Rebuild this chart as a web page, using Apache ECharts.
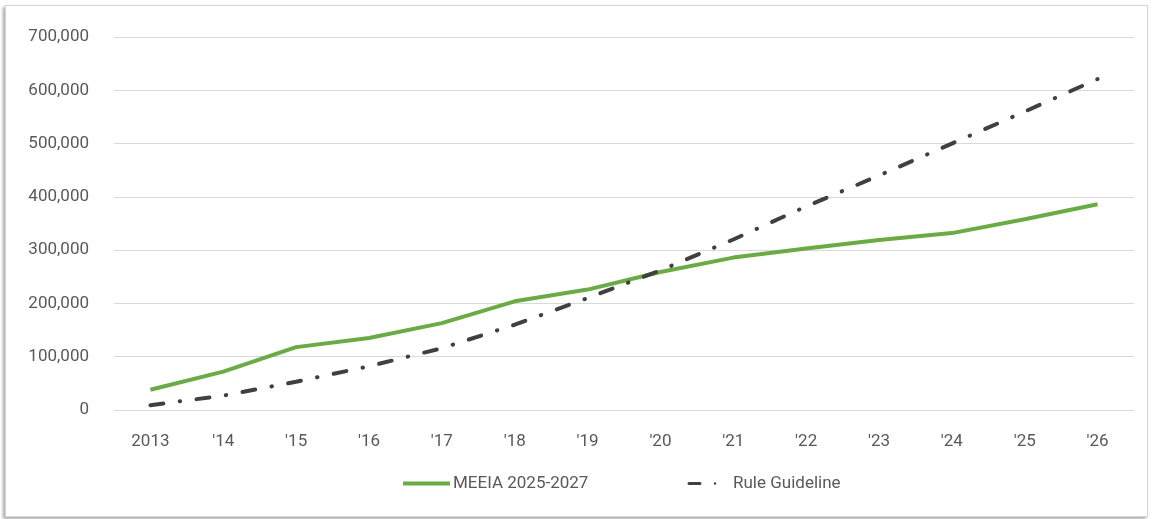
<!DOCTYPE html>
<html>
<head>
<meta charset="utf-8">
<script src="https://cdn.jsdelivr.net/npm/echarts@6/dist/echarts.min.js"></script>
<style>
  html, body { margin: 0; padding: 0; background: #ffffff; }
  #frame {
    position: absolute; left: 5px; top: 5px; width: 1141px; height: 510px;
    border: 1px solid #d6d6d6; box-shadow: -2px 2px 3px rgba(0,0,0,0.35);
    background: #ffffff;
  }
  #chart { position: absolute; left: 0; top: 0; width: 1159px; height: 519px; }
</style>
</head>
<body>
<div id="frame"></div>
<div id="chart"></div>
<script>
// Category labels along the x axis
const years = ['2013', "'14", "'15", "'16", "'17", "'18", "'19", "'20", "'21", "'22", "'23", "'24", "'25", "'26"];
// Cumulative savings, MEEIA 2025-2027 plan
const meeia = [38000, 72000, 118000, 135000, 163000, 204000, 226000, 259000, 286000, 303000, 319000, 332000, 358000, 386000];
// Cumulative savings, rule guideline
const guideline = [9000, 27000, 53000, 82000, 116000, 160000, 210000, 262000, 320000, 382000, 440000, 500000, 560000, 621000];
const seriesNames = ['MEEIA 2025-2027', 'Rule Guideline'];

const FONT = '"Liberation Sans Narrow", "Arial Narrow", Roboto, sans-serif';
const TEXT = '#595959';
const GREEN = '#6aab45';
const DARK = '#404040';

const chart = echarts.init(document.getElementById('chart'), null, { renderer: 'canvas' });
chart.setOption({
  animation: false,
  backgroundColor: 'transparent',
  textStyle: { fontFamily: FONT },
  grid: { left: 114, right: 25, top: 37, bottom: 109 },
  legend: [
    {
      left: 398,
      top: 470,
      itemWidth: 47,
      itemHeight: 4,
      icon: 'rect',
      textStyle: { color: TEXT, fontSize: 17, fontFamily: FONT, padding: [0, 0, 0, -2] },
      data: [seriesNames[0]]
    },
    {
      left: 682,
      top: 470,
      itemWidth: 31,
      itemHeight: 10,
      // dash followed by a dot, drawn as the key for the guideline series
      icon: 'path://M2,3.5 L13,3.5 A1.5,1.5 0 0 1 13,6.5 L2,6.5 A1.5,1.5 0 0 1 2,3.5 Z M28,5 m-1.2,0 a1.2,1.2 0 1 0 2.4,0 a1.2,1.2 0 1 0 -2.4,0 Z M0,0 M31,10',
      textStyle: { color: TEXT, fontSize: 17, fontFamily: FONT, padding: [0, 0, 0, 10] },
      data: [seriesNames[1]]
    }
  ],
  xAxis: {
    type: 'category',
    data: years,
    boundaryGap: true,
    axisLine: { show: false },
    axisTick: { show: false },
    axisLabel: { color: TEXT, fontSize: 17, fontFamily: FONT, margin: 23 }
  },
  yAxis: {
    type: 'value',
    min: 0,
    max: 700000,
    interval: 100000,
    axisLine: { show: false },
    axisTick: { show: false },
    splitLine: { lineStyle: { color: '#d9d9d9', width: 1 } },
    axisLabel: {
      color: TEXT, fontSize: 17, fontFamily: FONT, margin: 25,
      formatter: v => v.toLocaleString('en-US')
    }
  },
  series: [
    {
      name: seriesNames[0],
      type: 'line',
      data: meeia,
      showSymbol: false,
      symbol: 'none',
      itemStyle: { color: GREEN },
      lineStyle: { color: GREEN, width: 4 }
    },
    {
      name: seriesNames[1],
      type: 'line',
      data: guideline,
      showSymbol: false,
      symbol: 'none',
      itemStyle: { color: DARK },
      lineStyle: { color: DARK, width: 4, type: [13, 16.5, 0.5, 16.5], cap: 'round' }
    }
  ]
});
</script>
</body>
</html>
